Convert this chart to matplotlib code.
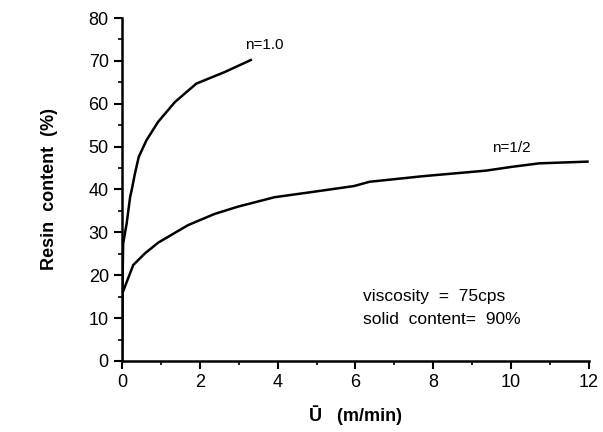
import matplotlib
matplotlib.use('Agg')
import matplotlib.pyplot as plt
from matplotlib.ticker import MultipleLocator

plt.rcParams['font.family'] = ['Liberation Sans', 'DejaVu Sans']

# resin content vs. mean withdrawal speed, two power-law indices
u_n1 = [0.0, 0.01, 0.03, 0.12, 0.21, 0.25, 0.33, 0.43, 0.63, 0.93,
        1.36, 1.91, 2.64, 3.31]
rc_n1 = [0.0, 16.0, 27.4, 32.1, 38.3, 39.9, 43.6, 47.6, 51.5, 55.8,
         60.4, 64.7, 67.4, 70.2]

u_nhalf = [0.0, 0.005, 0.01, 0.29, 0.59, 0.93, 1.70, 2.38, 2.98, 3.92,
           4.95, 5.96, 6.36, 7.73, 9.35, 10.03, 10.72, 11.96]
rc_nhalf = [0.0, 8.0, 15.8, 22.4, 25.1, 27.6, 31.7, 34.3, 36.0, 38.2,
            39.5, 40.8, 41.8, 43.1, 44.4, 45.3, 46.1, 46.5]

fig = plt.figure(figsize=(6.03, 4.32), dpi=100)
ax = fig.add_axes([0.2023, 0.1644, 0.7745, 0.7939])

ax.plot(u_n1, rc_n1, color='black', lw=1.8, solid_joinstyle='round')
ax.plot(u_nhalf, rc_nhalf, color='black', lw=1.8, solid_joinstyle='round')

ax.text(3.15, 73.7, 'n=1.0', fontsize=11, va='center', ha='left')
ax.text(9.5, 49.6, 'n=1/2', fontsize=11, va='center', ha='left')
ax.text(6.2, 15.0, 'viscosity  =  75cps', fontsize=12.5, va='center', ha='left')
ax.text(6.2, 9.6, 'solid  content=  90%', fontsize=12.5, va='center', ha='left')

ax.set_xlim(0, 12)
ax.set_ylim(0, 80)
ax.xaxis.set_major_locator(MultipleLocator(2))
ax.xaxis.set_minor_locator(MultipleLocator(1))
ax.yaxis.set_major_locator(MultipleLocator(10))
ax.yaxis.set_minor_locator(MultipleLocator(5))
ax.tick_params(which='major', length=6, width=1.5, labelsize=13, direction='out')
ax.tick_params(which='minor', length=3, width=1.2, direction='out')

for side in ['top', 'right']:
    ax.spines[side].set_visible(False)
for side in ['left', 'bottom']:
    ax.spines[side].set_linewidth(1.8)

ax.set_xlabel('Ū   (m/min)', fontsize=13, fontweight='bold', labelpad=10)
ax.set_ylabel('Resin  content  (%)', fontsize=13, fontweight='bold', labelpad=22)

fig.savefig('out.png', dpi=100)
